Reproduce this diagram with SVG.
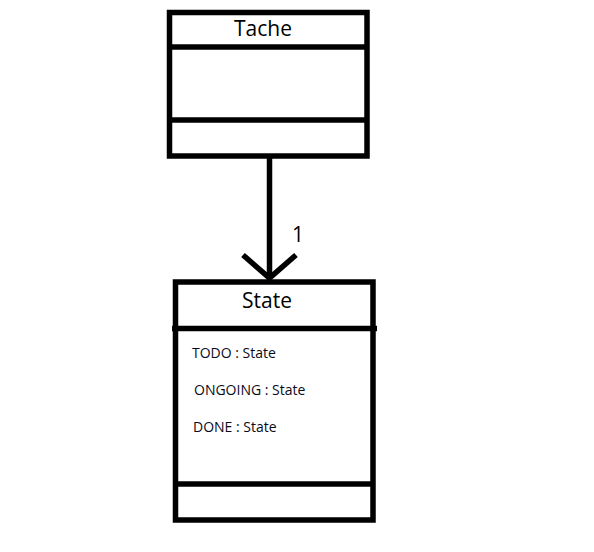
<svg xmlns="http://www.w3.org/2000/svg" width="594" height="552" viewBox="0 0 594 552">
<style>
.box{fill:#fff;stroke:#000;stroke-width:5.5}
.ln{stroke:#000;stroke-width:5.5;fill:none}
.title{font-family:"Open Sans","Noto Sans",sans-serif;font-size:21px;fill:#000;text-anchor:middle}
.attr{font-family:"Open Sans","Noto Sans",sans-serif;font-size:14px;fill:#0a0a1a}
</style>
<rect width="594" height="552" fill="#fff"/>
<g id="connectors">
<line class="ln" x1="269.5" y1="158" x2="269.5" y2="277"/>
<polyline class="ln" points="243,255 269.5,278 296,255"/>
<text class="title" x="298" y="242" font-size="19">1</text>
</g>
<g id="Tache">
<rect class="box" x="169.5" y="12.5" width="197.5" height="143.5"/>
<line class="ln" x1="169.5" y1="47" x2="367" y2="47"/>
<line class="ln" x1="169.5" y1="120" x2="367" y2="120"/>
<text class="title" x="263" y="36">Tache</text>
</g>
<g id="State">
<rect class="box" x="175.5" y="282" width="197.5" height="238"/>
<line class="ln" x1="172" y1="328.5" x2="377" y2="328.5"/>
<line class="ln" x1="175.5" y1="484" x2="373" y2="484"/>
<text class="title" x="267" y="308">State</text>
<text class="attr" x="192" y="358">TODO : State</text>
<text class="attr" x="194" y="395">ONGOING : State</text>
<text class="attr" x="193" y="432">DONE : State</text>
</g>
</svg>
